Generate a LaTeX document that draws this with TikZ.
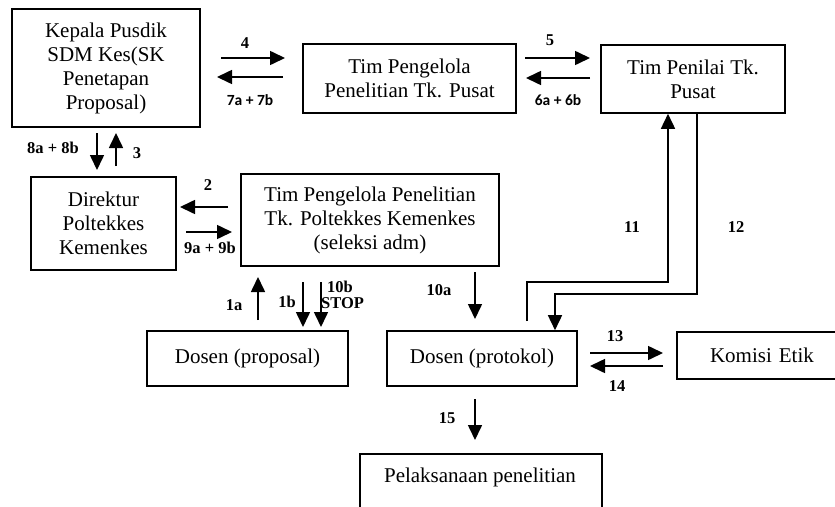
\documentclass[tikz,border=0pt]{standalone}
\usepackage{fontspec}
\setmainfont{Liberation Serif}
\newfontfamily\calfont{Carlito}
\usetikzlibrary{arrows.meta}
\tikzset{
  boxnode/.style={draw, line width=1.6pt, inner sep=0pt, align=center,
    font=\fontsize{21}{24}\selectfont},
  txt/.style={inner sep=0pt, align=center, font=\fontsize{21}{24}\selectfont},
  arr/.style={line width=1.6pt, -{Triangle[length=15pt,width=14pt]}},
  lab/.style={inner sep=0pt, font=\fontsize{16.5}{18}\selectfont\bfseries},
  labc/.style={inner sep=0pt, font=\fontsize{15.5}{17}\selectfont\calfont\bfseries},
}
\begin{document}
\begin{tikzpicture}[x=1pt,y=-1pt]
\useasboundingbox (0,0) rectangle (835,506);
\clip (0,0) rectangle (835,506);
% boxes
\node[boxnode, minimum width=188pt, minimum height=118pt] (kep) at (106,68) {Kepala Pusdik\\SDM Kes(SK\\Penetapan\\Proposal)};
\node[boxnode, minimum width=213pt, minimum height=69pt] (tpp) at (409.5,78.5) {Tim Pengelola\\Penelitian Tk. Pusat};
\node[boxnode, minimum width=184pt, minimum height=68pt] (tpn) at (693,79) {Tim Penilai Tk.\\Pusat};
\node[boxnode, minimum width=145pt, minimum height=93pt] (dir) at (103.5,223.5) {Direktur\\Poltekkes\\Kemenkes};
\node[boxnode, minimum width=258pt, minimum height=92pt] (tpk) at (370,220) {Tim Pengelola Penelitian\\Tk. Poltekkes Kemenkes\\(seleksi adm)};
\node[boxnode, minimum width=201pt, minimum height=55pt] (dprop) at (247.5,358.5) {Dosen (proposal)};
\node[boxnode, minimum width=190pt, minimum height=55pt] (dprot) at (482,358.5) {Dosen (protokol)};
\node[boxnode, minimum width=172pt, minimum height=47pt, text width=172pt, align=left] (kom) at (763,355.5) {\hspace*{33pt}Komisi Etik};
\node[boxnode, minimum width=242pt, minimum height=90pt, anchor=north west] (pel) at (359,453) {};
\node[txt] (peltext) at (480,477) {Pelaksanaan penelitian};
% arrows
\draw[arr] (221,58) coordinate (a4s) -- (285,58) coordinate (a4e);
\draw[arr] (283,77) coordinate (a7s) -- (217,77) coordinate (a7e);
\draw[arr] (97,133) coordinate (a8s) -- (97,170) coordinate (a8e);
\draw[arr] (116,166) coordinate (a3s) -- (116,133) coordinate (a3e);
\draw[arr] (525,58) coordinate (a5s) -- (590,58) coordinate (a5e);
\draw[arr] (590,78) coordinate (a6s) -- (526,78) coordinate (a6e);
\draw[arr] (228,207) coordinate (a2s) -- (180,207) coordinate (a2e);
\draw[arr] (186,232) coordinate (a9s) -- (232,232) coordinate (a9e);
\draw[arr] (258,320) coordinate (a1as) -- (258,277) coordinate (a1ae);
\draw[arr] (303,282) coordinate (a1bs) -- (303,327) coordinate (a1be);
\draw[arr] (321,282) coordinate (a10bs) -- (321,327) coordinate (a10be);
\draw[arr] (475,272) coordinate (a10as) -- (475,319) coordinate (a10ae);
\draw[arr] (527,321) coordinate (a11s) -- (527,282) -- (668,282) -- (tpn.south -| 668,0);
\draw[arr] (tpn.south -| 697,0) -- (697,294) -- (555,294) -- (dprot.north -| 555,0);
\draw[arr] (590,353) coordinate (a13s) -- (663,353) coordinate (a13e);
\draw[arr] (663,366) coordinate (a14s) -- (590,366) coordinate (a14e);
\draw[arr] (475,399) coordinate (a15s) -- (475,440) coordinate (a15e);
% labels
\node[lab] (l4) at (245,43) {4};
\node[labc] (l7) at (250,100) {7a + 7b};
\node[lab] (l8) at (53,148) {8a + 8b};
\node[lab] (l3) at (137,153) {3};
\node[lab] (l5) at (550,40) {5};
\node[labc] (l6) at (558,100) {6a + 6b};
\node[lab] (l2) at (208,185) {2};
\node[lab] (l9) at (210,248) {9a + 9b};
\node[lab] (l1a) at (234,305) {1a};
\node[lab] (l1b) at (287,302) {1b};
\node[lab, anchor=west] (l10b) at (327,287) {10b};
\node[lab, anchor=west] (lstop) at (321,303) {STOP};
\node[lab] (l10a) at (439,290) {10a};
\node[lab] (l11) at (632,227) {11};
\node[lab] (l12) at (736,227) {12};
\node[lab] (l13) at (615,336) {13};
\node[lab] (l14) at (617,386) {14};
\node[lab] (l15) at (447,418) {15};
\end{tikzpicture}
\end{document}
